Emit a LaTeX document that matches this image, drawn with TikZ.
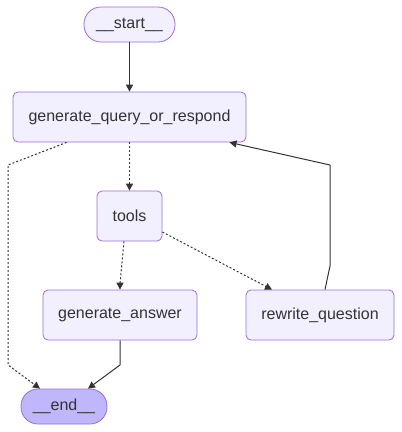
\documentclass[tikz,border=0pt]{standalone}
\usepackage{fontspec}
\setmainfont{Liberation Sans}
\usetikzlibrary{arrows.meta}
\definecolor{boxfill}{HTML}{F2F0FF}
\definecolor{boxline}{HTML}{9370DB}
\definecolor{endfill}{HTML}{BFB6FC}
\definecolor{inkcol}{HTML}{333333}
\begin{document}
\begin{tikzpicture}[x=1pt,y=-1pt,line join=round,>={Triangle[length=7pt,width=7pt]},
	box/.style={draw=boxline,fill=boxfill,line width=0.8pt,rounded corners=5pt,text=inkcol,
		font=\fontsize{16}{19}\selectfont,inner sep=0pt,minimum height=50pt},
	pill/.style={box,rounded corners=17pt,minimum height=35pt},
	solidline/.style={draw=inkcol,line width=1pt,->},
	dotline/.style={solidline,dash pattern=on 2pt off 2pt}]
	\useasboundingbox (0,0) rectangle (402,432);
	\node[pill,minimum width=91pt] (start) at (129.5,24.5) {\_\_start\_\_};
	\node[pill,fill=endfill,minimum width=86pt] (end) at (64,406.5) {\_\_end\_\_};
	\foreach \nm/\x/\y/\w/\txt in {gqr/129.5/117/233/generate\_query\_or\_respond,
		tools/129.5/216/65/tools,
		answer/120/315/154/generate\_answer,
		rewrite/320/315/148/rewrite\_question}
	\node[box,minimum width=\w pt] (\nm) at (\x,\y) {\txt};
	% edges
	\draw[solidline] (start) -- (gqr);
	\draw[dotline] (gqr) -- (tools);
	\draw[dotline] ([xshift=54pt]gqr.south west) -- (8,165) -- (8,365) -- ([xshift=-24pt]end.north);
	\draw[dotline] ([xshift=-5.5pt]tools.south) -- (120,284) -- (answer.north);
	\draw[dotline] ([yshift=-16pt]tools.east) -- ([xshift=-48pt]rewrite.north);
	\draw[solidline] ([xshift=5pt]rewrite.north) -- (330,266) -- (330,165) -- ([xshift=100pt]gqr.south);
	\draw[solidline] (answer.south) -- (120,365) -- ([xshift=24pt]end.north);
\end{tikzpicture}
\end{document}
